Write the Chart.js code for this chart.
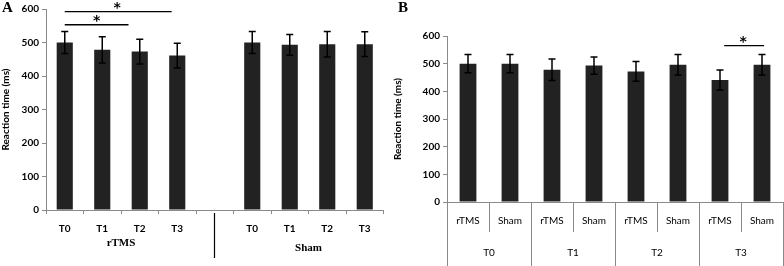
<!DOCTYPE html>
<html>
<head>
<meta charset="utf-8">
<script src="https://cdn.jsdelivr.net/npm/chart.js@4/dist/chart.umd.min.js"></script>
<style>
  body { margin: 0; background: #fff; }
  #wrap { position: relative; width: 784px; height: 266px; }
  canvas { position: absolute; top: 0; }
  .tag { position: absolute; font: bold 15px "Liberation Serif", serif; color: #000; }
</style>
</head>
<body>
<div id="wrap">
  <canvas id="chartA" width="392" height="266" style="left:0"></canvas>
  <canvas id="chartB" width="392" height="266" style="left:392px"></canvas>
  <div class="tag" style="left:2px;top:-1px">A</div>
  <div class="tag" style="left:398px;top:-1px">B</div>
</div>
<script>
// Panel A data: rTMS then Sham, empty slot in the middle
const aLabels = ["T0", "T1", "T2", "T3", "", "T0", "T1", "T2", "T3"];
const aRtms = [500, 478, 473, 461];
const aRtmsErr = [33, 39, 37, 37];
const aSham = [500, 493, 495, 495];
const aShamErr = [33, 31, 38, 37];
const aGroups = ["rTMS", "Sham"];

// Panel B data: rTMS/Sham pairs per time point
const bLabels = ["rTMS", "Sham", "rTMS", "Sham", "rTMS", "Sham", "rTMS", "Sham"];
const bGroups = ["T0", "T1", "T2", "T3"];
const bValues = [500, 500, 478, 493, 472, 496, 441, 496];
const bErr = [33, 33, 39, 31, 36, 37, 36, 37];

const yTicks = [0, 100, 200, 300, 400, 500, 600];

// significance brackets: [from index, to index, y value, star index]
const aSig = [[0, 2.85, 592, 1.4], [0, 1.7, 553, 0.85]];
const bSig = [[6.1, 7.05, 565, 6.55]];

const aValues = aRtms.concat([null], aSham);
const aErr = aRtmsErr.concat([null], aShamErr);

const axisGrey = "#8a8a8a";
const tickFont = { family: "Lato", size: 10, weight: "bold" };

const errorBars = {
  id: "errorBars",
  afterDatasetsDraw(chart, args, opts) {
    const ctx = chart.ctx;
    const y = chart.scales.y;
    const meta = chart.getDatasetMeta(0);
    ctx.save();
    ctx.strokeStyle = "#000";
    ctx.lineWidth = 1.5;
    meta.data.forEach(function (bar, i) {
      const v = opts.values[i];
      const e = opts.errors[i];
      if (v == null) return;
      const top = y.getPixelForValue(v + e);
      const bot = y.getPixelForValue(v - e);
      ctx.beginPath();
      ctx.moveTo(bar.x, top); ctx.lineTo(bar.x, bot);
      ctx.moveTo(bar.x - 3.5, top); ctx.lineTo(bar.x + 3.5, top);
      ctx.moveTo(bar.x - 3.5, bot); ctx.lineTo(bar.x + 3.5, bot);
      ctx.stroke();
    });
    // significance lines
    ctx.lineWidth = 1.3;
    ctx.fillStyle = "#000";
    ctx.font = "bold 14px 'DejaVu Sans'";
    ctx.textAlign = "center";
    ctx.textBaseline = "alphabetic";
    opts.sig.forEach(function (s) {
      const x1 = chart.scales.x.getPixelForValue(s[0]);
      const x2 = chart.scales.x.getPixelForValue(s[1]);
      const yy = y.getPixelForValue(s[2]);
      ctx.beginPath();
      ctx.moveTo(x1, yy); ctx.lineTo(x2, yy);
      ctx.stroke();
      ctx.fillText("*", chart.scales.x.getPixelForValue(s[3]), yy);
    });
    ctx.restore();
  }
};

const groupLabelsA = {
  id: "groupLabelsA",
  afterDraw(chart) {
    const ctx = chart.ctx;
    const x = chart.scales.x;
    const bottom = chart.chartArea.bottom;
    ctx.save();
    ctx.fillStyle = "#000";
    ctx.font = "bold 11px 'Liberation Serif'";
    ctx.textAlign = "center";
    ctx.textBaseline = "middle";
    ctx.fillText(aGroups[0], (x.getPixelForValue(0) + x.getPixelForValue(3)) / 2, bottom + 33);
    ctx.fillText(aGroups[1], (x.getPixelForValue(5) + x.getPixelForValue(8)) / 2, bottom + 38);
    ctx.strokeStyle = "#000";
    ctx.lineWidth = 1.2;
    const sx = Math.round(x.getPixelForValue(4)) - 0.5;
    ctx.beginPath();
    ctx.moveTo(sx, bottom + 3); ctx.lineTo(sx, bottom + 48);
    ctx.stroke();
    ctx.restore();
  }
};

const groupLabelsB = {
  id: "groupLabelsB",
  afterDraw(chart) {
    const ctx = chart.ctx;
    const x = chart.scales.x;
    const bottom = chart.chartArea.bottom;
    ctx.save();
    ctx.fillStyle = "#000";
    ctx.font = "10px Lato";
    ctx.textAlign = "center";
    ctx.textBaseline = "middle";
    ctx.strokeStyle = axisGrey;
    ctx.lineWidth = 1;
    bGroups.forEach(function (g, i) {
      const left = x.getPixelForValue(i * 2 - 0.5);
      const right = x.getPixelForValue(i * 2 + 1.5);
      ctx.fillText(g, (left + right) / 2, bottom + 51);
    });
    for (let i = 0; i <= bGroups.length; i++) {
      const gx = Math.round(x.getPixelForValue(i * 2 - 0.5)) + 0.5;
      ctx.beginPath();
      ctx.moveTo(gx, bottom); ctx.lineTo(gx, chart.height);
      ctx.stroke();
    }
    ctx.restore();
  }
};

function yScale(width, titleFont) {
  return {
    min: 0,
    max: 600,
    afterFit: function (s) { s.width = width; },
    afterBuildTicks: function (s) { s.ticks = yTicks.map(v => ({ value: v })); },
    border: { color: axisGrey, width: 1 },
    grid: { drawOnChartArea: false, tickLength: 4, color: axisGrey },
    ticks: { color: "#000", font: tickFont, padding: 3 },
    title: { display: true, text: "Reaction time (ms)", color: "#000", font: titleFont, padding: 0 }
  };
}

new Chart(document.getElementById("chartA").getContext("2d"), {
  type: "bar",
  data: {
    labels: aLabels,
    datasets: [{ data: aValues, backgroundColor: "#222222", categoryPercentage: 1, barPercentage: 0.43 }]
  },
  options: {
    responsive: false,
    animation: false,
    layout: { padding: { left: 0, top: 7, right: 8.5, bottom: 0 } },
    plugins: {
      legend: { display: false },
      tooltip: { enabled: false },
      errorBars: { values: aValues, errors: aErr, sig: aSig }
    },
    scales: {
      x: {
        afterFit: function (s) { s.height = 56; },
        border: { color: axisGrey, width: 1 },
        grid: { offset: true, drawOnChartArea: false, tickLength: 4, color: axisGrey },
        ticks: { color: "#000", font: tickFont, padding: 9, maxRotation: 0, autoSkip: false }
      },
      y: yScale(46, { family: "Lato", size: 10, weight: "bold" })
    }
  },
  plugins: [errorBars, groupLabelsA]
});

new Chart(document.getElementById("chartB").getContext("2d"), {
  type: "bar",
  data: {
    labels: bLabels,
    datasets: [{ data: bValues, backgroundColor: "#222222", categoryPercentage: 1, barPercentage: 0.4 }]
  },
  options: {
    responsive: false,
    animation: false,
    layout: { padding: { left: 0, top: 36, right: 1, bottom: 0 } },
    plugins: {
      legend: { display: false },
      tooltip: { enabled: false },
      errorBars: { values: bValues, errors: bErr, sig: bSig }
    },
    scales: {
      x: {
        afterFit: function (s) { s.height = 64; },
        border: { color: axisGrey, width: 1 },
        grid: { offset: true, drawOnChartArea: false, tickLength: 30, color: axisGrey },
        ticks: { color: "#000", font: { family: "Lato", size: 10 }, padding: -17, maxRotation: 0, autoSkip: false }
      },
      y: yScale(55, { family: "Lato", size: 10, weight: "bold" })
    }
  },
  plugins: [errorBars, groupLabelsB]
});
</script>
</body>
</html>
